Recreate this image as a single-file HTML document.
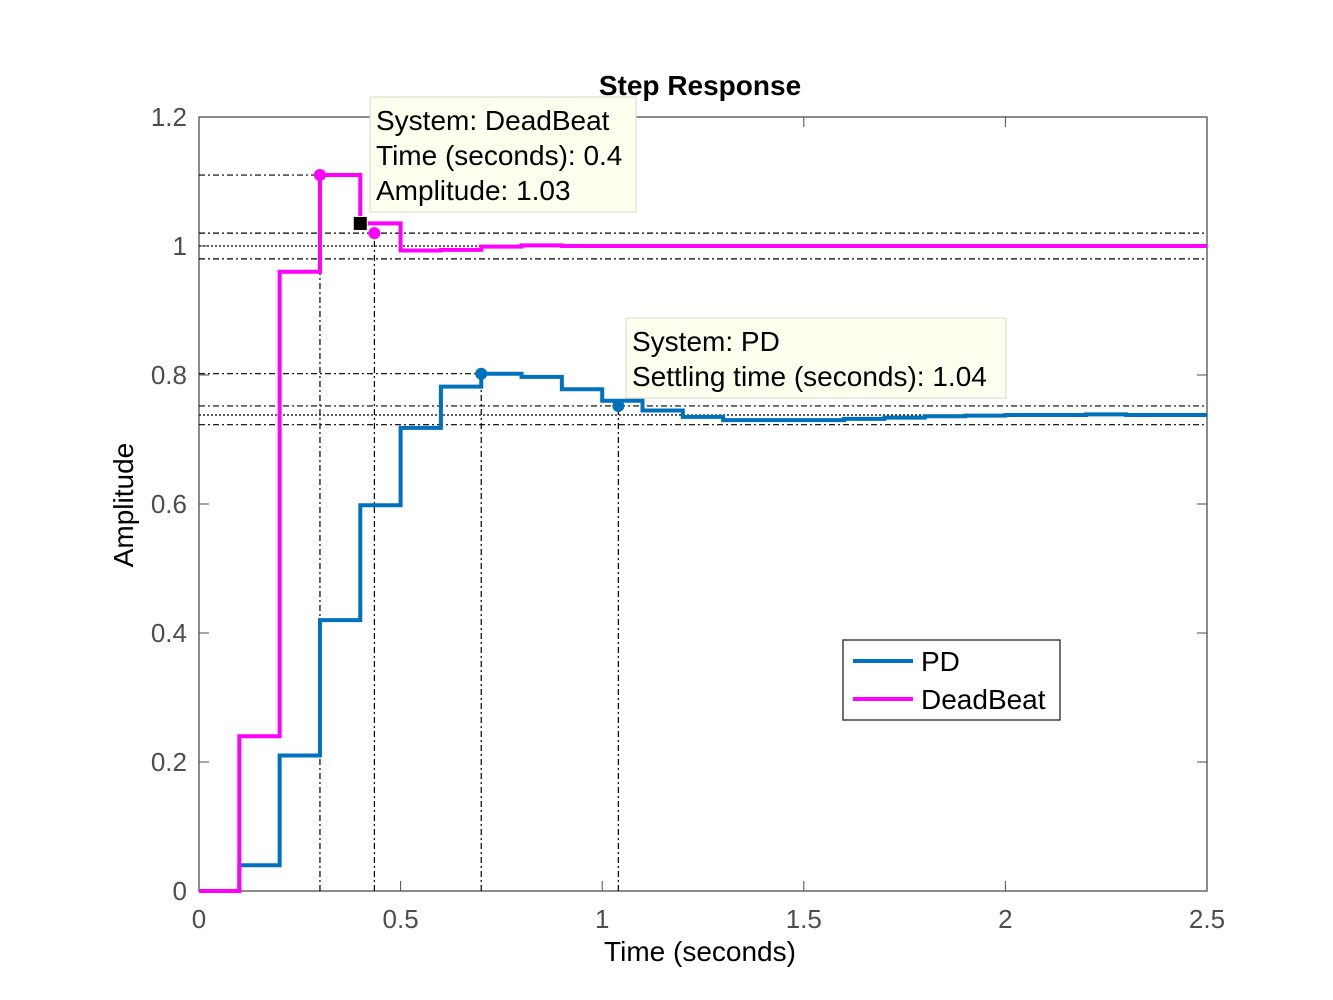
<!DOCTYPE html>
<html><head><meta charset="utf-8"><style>
body{margin:0;background:#fff}
svg{display:block;font-family:"Liberation Sans",Arial,sans-serif}
</style></head><body>
<svg id="chart" width="1333" height="1000" viewBox="0 0 1333 1000">
<rect x="0" y="0" width="1333" height="1000" fill="#fff"/>
<g id="plot"></g>
</svg>
<script>
const pdTimes=[0,0.1,0.2,0.3,0.4,0.5,0.6,0.7,0.8,0.9,1.0,1.1,1.2,1.3,1.4,1.5,1.6,1.7,1.8,1.9,2.0,2.1,2.2,2.3,2.4,2.5];
const pdValues=[0,0.04,0.21,0.42,0.598,0.718,0.782,0.802,0.797,0.778,0.76,0.745,0.735,0.73,0.73,0.73,0.732,0.734,0.736,0.737,0.738,0.738,0.739,0.738,0.738,0.738];
const dbValues=[0,0.24,0.96,1.11,1.035,0.993,0.994,0.999,1.001,1.0,1.0,1.0,1.0,1.0,1.0,1.0,1.0,1.0,1.0,1.0,1.0,1.0,1.0,1.0,1.0,1.0];
const xTicks=[0,0.5,1,1.5,2,2.5];
const xTickLabels=["0","0.5","1","1.5","2","2.5"];
const yTicks=[0,0.2,0.4,0.6,0.8,1,1.2];
const yTickLabels=["0","0.2","0.4","0.6","0.8","1","1.2"];
const X0=199,X1=1207,Y0=891,Y1=117;
const xs=v=>X0+(v/2.5)*(X1-X0);
const ys=v=>Y0-(v/1.2)*(Y0-Y1);
const NS="http://www.w3.org/2000/svg";
const g=document.getElementById('plot');
function mk(t,a,txt){const e=document.createElementNS(NS,t);for(const k in a)e.setAttribute(k,a[k]);if(txt!==undefined)e.textContent=txt;g.appendChild(e);return e;}
let e=mk('rect',{x:X0,y:Y1,width:X1-X0,height:Y0-Y1,fill:'#fff',stroke:'#4d4d4d','stroke-width':1.3});


xTicks.forEach((t,i)=>{
 e=mk('line',{x1:xs(t),x2:xs(t),y1:Y0,y2:Y0-10,stroke:'#4d4d4d'});
 
 
 mk('line',{x1:xs(t),x2:xs(t),y1:Y1,y2:Y1+10,stroke:'#4d4d4d'});
 e=mk('text',{x:xs(t),y:Y0+37,'text-anchor':'middle','font-size':26,fill:'#4d4d4d'},xTickLabels[i]);
 
 
});
yTicks.forEach((t,i)=>{
 e=mk('line',{x1:X0,x2:X0+10,y1:ys(t),y2:ys(t),stroke:'#4d4d4d'});
 
 
 mk('line',{x1:X1,x2:X1-10,y1:ys(t),y2:ys(t),stroke:'#4d4d4d'});
 e=mk('text',{x:X0-12,y:ys(t)+9,'text-anchor':'end','font-size':26,fill:'#4d4d4d'},yTickLabels[i]);
 
 
});
const dd={stroke:'#000','stroke-width':1.2,'stroke-dasharray':'6,3,2,3',fill:'none'};
const dot={stroke:'#000','stroke-width':1.2,'stroke-dasharray':'2,2',fill:'none'};
function hl(v,x2,st,name){e=mk('line',Object.assign({x1:X0,x2:xs(x2),y1:ys(v),y2:ys(v)},st));}
function vl(t,v,st,name){e=mk('line',Object.assign({x1:xs(t),x2:xs(t),y1:Y0,y2:ys(v)},st));}
hl(1.11,0.3,dd,'db-peak-line');hl(1.02,2.5,dd,'db-settle-upper');hl(1.0,2.5,dot,'db-final-line');hl(0.98,2.5,dd,'db-settle-lower');
hl(0.802,0.7,dd,'pd-peak-line');hl(0.752,2.5,dd,'pd-settle-upper');hl(0.738,2.5,dot,'pd-final-line');hl(0.723,2.5,dd,'pd-settle-lower');
vl(0.3,1.11,dd,'db-peak-time');vl(0.435,1.02,dd,'db-settle-time');vl(0.7,0.802,dd,'pd-peak-time');vl(1.04,0.752,dd,'pd-settle-time');
function stair(vals,col,name){let d='';for(let i=0;i<pdTimes.length;i++){const x=xs(pdTimes[i]),y=ys(vals[i]);if(i==0)d+='M'+x+','+y;else d+='L'+x+','+ys(vals[i-1])+'L'+x+','+y;}
 d+='L'+xs(2.5)+','+ys(vals[vals.length-1]);
 e=mk('path',{d:d,stroke:col,'stroke-width':4,fill:'none','stroke-linejoin':'miter'});}
stair(pdValues,'#0072BD','pd-series');
stair(dbValues,'#FF00FF','deadbeat-series');
function pt(t,v,c,name){e=mk('circle',{cx:xs(t),cy:ys(v),r:6,fill:c});}
pt(0.3,1.11,'#FF00FF','db-peak-marker');pt(0.435,1.02,'#FF00FF','db-settle-marker');
pt(0.7,0.802,'#0072BD','pd-peak-marker');pt(1.04,0.752,'#0072BD','pd-settle-marker');
e=mk('rect',{x:xs(0.4)-7,y:ys(1.035)-7,width:14,height:14,fill:'#000',stroke:'#fffbe0'});
function tip(x,y,w,h,lines,name){e=mk('rect',{x:x,y:y,width:w,height:h,fill:'#fffff0',stroke:'#d8d8c8'});
 lines.forEach((l,i)=>{const t=mk('text',{x:x+6,y:y+33+i*35,'font-size':28,fill:'#000'},l);});}
tip(370,97,266,115,['System: DeadBeat','Time (seconds): 0.4','Amplitude: 1.03'],'deadbeat-datatip');
tip(626,318,380,80,['System: PD','Settling time (seconds): 1.04'],'pd-datatip');
e=mk('rect',{x:843,y:640,width:217,height:80,fill:'#fff',stroke:'#262626','stroke-width':1.3});
[['PD','#0072BD',661],['DeadBeat','#FF00FF',699]].forEach(([n,c,y])=>{
 e=mk('line',{x1:853,x2:913,y1:y,y2:y,stroke:c,'stroke-width':4});
 e=mk('text',{x:921,y:y+10,'font-size':28,fill:'#000'},n);});
e=mk('text',{x:700,y:95,'text-anchor':'middle','font-size':28,'font-weight':'bold',fill:'#000'},'Step Response');
e=mk('text',{x:700,y:961,'text-anchor':'middle','font-size':28,fill:'#000'},'Time (seconds)');
e=mk('text',{x:133,y:505,'text-anchor':'middle','font-size':28,fill:'#000',transform:'rotate(-90 133 505)'},'Amplitude');
</script>
</body></html>
